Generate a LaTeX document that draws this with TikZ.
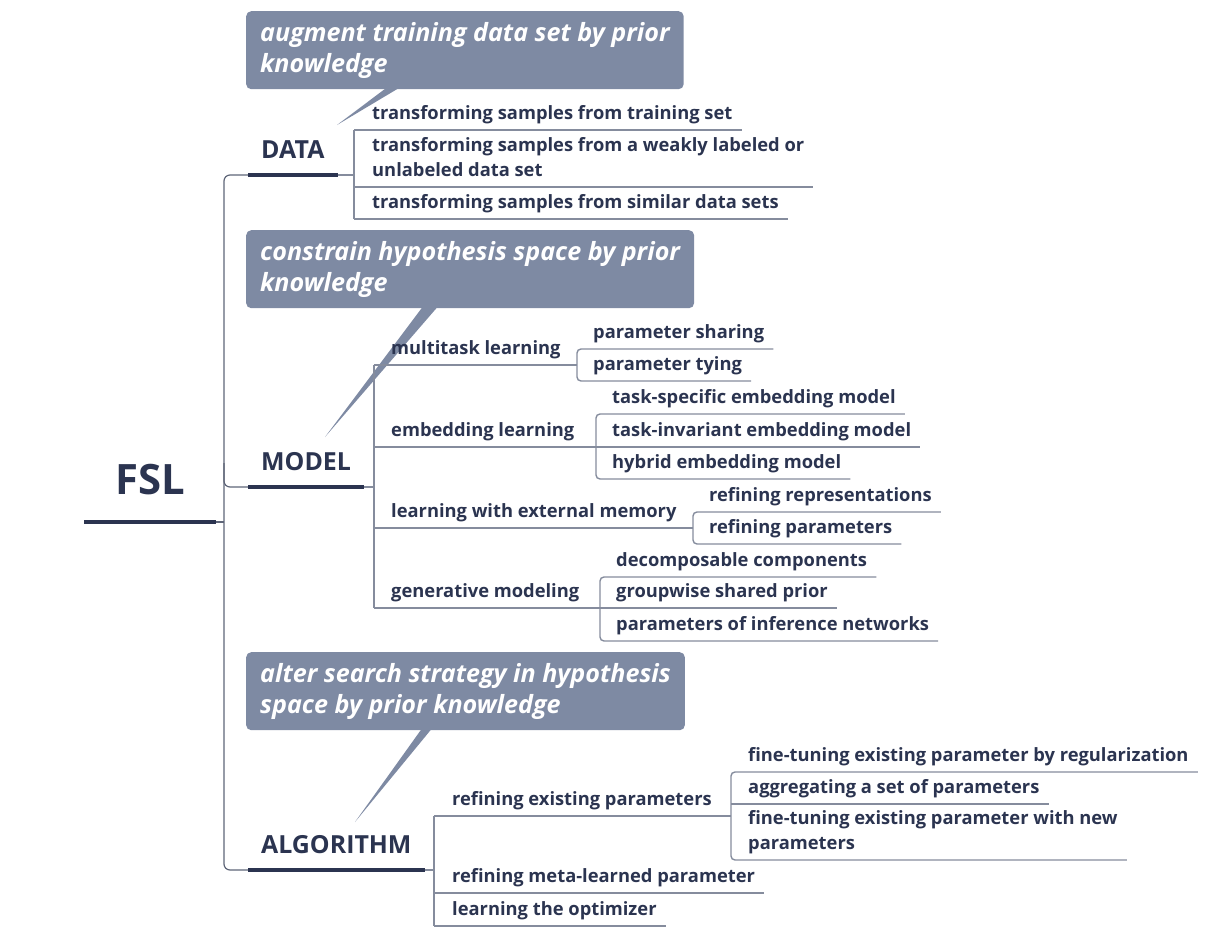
\documentclass[tikz,border=0pt]{standalone}
\usepackage{fontspec}
\setmainfont[Ligatures=NoCommon]{Open Sans}
\usetikzlibrary{positioning}
\definecolor{ink}{HTML}{2B3450}
\definecolor{notefill}{HTML}{7E8AA3}
\definecolor{twiggray}{HTML}{858C9D}
\definecolor{trunkgray}{HTML}{5E6578}
\tikzset{
  root/.style={anchor=south west, inner xsep=31bp, inner ysep=27bp, text depth=0pt, text=ink, font=\fontsize{42}{48}\selectfont\bfseries},
  topic/.style={anchor=south west, inner xsep=13bp, inner ysep=16bp, text depth=0pt, text=ink, font=\fontsize{25}{29}\selectfont\bfseries},
  leaf/.style={anchor=south west, inner xsep=0pt, inner ysep=6bp, text depth=4bp, align=left, text=ink, font=\fontsize{18.4}{25}\selectfont\bfseries},
  note/.style={anchor=north west, fill=notefill, rounded corners=5bp, inner xsep=14bp, inner ysep=11bp, align=left, text=white, font=\fontsize{25.2}{31}\selectfont\bfseries\itshape},
  tail/.style={fill=notefill},
  trunk/.style={draw=trunkgray, line width=1.2bp},
  bar/.style={draw=ink, line width=3.5bp},
  twig/.style={draw=twiggray, line width=1.4bp},
}
\begin{document}
\begin{tikzpicture}[x=1bp,y=-1bp]
\useasboundingbox (0,0) rectangle (1226,944);
%% callouts
\node[note] (n1) at (246,11) {augment training data set by prior\\knowledge};
\node[note] (n2) at (246,230) {constrain hypothesis space by prior\\knowledge};
\node[note] (n3) at (246,652) {alter search strategy in hypothesis\\space by prior knowledge};
\coordinate (n1tip) at (337,125);
\coordinate (n2tip) at (325,437);
\coordinate (n3tip) at (355,822);
\fill[tail] ([xshift=141bp,yshift=2bp]n1.south west) -- (n1tip) -- ([xshift=154bp,yshift=2bp]n1.south west) -- cycle;
\fill[tail] ([xshift=177bp,yshift=2bp]n2.south west) -- (n2tip) -- ([xshift=192bp,yshift=2bp]n2.south west) -- cycle;
\fill[tail] ([xshift=176bp,yshift=2bp]n3.south west) -- (n3tip) -- ([xshift=186bp,yshift=2bp]n3.south west) -- cycle;
%% root and main topics
\node[root] (fsl) at (84,522) {FSL};
\node[topic] (data) at (248,175) {DATA};
\node[topic] (model) at (248,487) {MODEL};
\node[topic] (algo) at (248,870) {ALGORITHM};
\coordinate (rootbar) at (224,522);
\draw[trunk] (fsl.south east) -- (rootbar);
\draw[trunk, rounded corners=6bp] (data.south west) -| (rootbar) |- (algo.south west);
\draw[trunk, rounded corners=6bp] (model.south west) -| ++(-24,-24);
\foreach \t in {fsl,data,model,algo}
  \draw[bar] (\t.south west) -- (\t.south east);
%% DATA
\node[leaf] (d1) at (372,130) {transforming samples from training set};
\node[leaf] (d2) at (372,187) {transforming samples from a weakly labeled or\\unlabeled data set};
\node[leaf] (d3) at (372,219) {transforming samples from similar data sets};
\coordinate (databar) at (354,175);
\draw[twig] (data.south east) -- (databar);
\draw[twig] (d1.south -| databar) -- (d3.south -| databar);
\foreach \n in {d1,d2,d3}
  \draw[twig] (\n.south -| databar) -- ([xshift=9bp]\n.south east);
%% MODEL
\node[leaf] (mt) at (391,365) {multitask learning};
\node[leaf] (el) at (391,447) {embedding learning};
\node[leaf] (lm) at (391,528) {learning with external memory};
\node[leaf] (gm) at (391,608) {generative modeling};
\coordinate (modelbar) at (374,487);
\draw[twig] (model.south east) -- (modelbar);
\draw[twig] (mt.south -| modelbar) -- (gm.south -| modelbar);
\coordinate (mtbar) at (577,365);
\coordinate (elbar) at (596,447);
\coordinate (lmbar) at (693,528);
\coordinate (gmbar) at (600,608);
\draw[twig] (mt.south -| modelbar) -- (mtbar);
\draw[twig] (el.south -| modelbar) -- (elbar);
\draw[twig] (lm.south -| modelbar) -- (lmbar);
\draw[twig] (gm.south -| modelbar) -- (gmbar);
\node[leaf] (mt1) at (593,349) {parameter sharing};
\node[leaf] (mt2) at (593,381) {parameter tying};
\draw[twig, rounded corners=4bp] ([xshift=9bp]mt1.south east) -- (mt1.south -| mtbar) -- (mt2.south -| mtbar) -- ([xshift=9bp]mt2.south east);
\node[leaf] (el1) at (612,414) {task-specific embedding model};
\node[leaf] (el2) at (612,447) {task-invariant embedding model};
\node[leaf] (el3) at (612,479) {hybrid embedding model};
\draw[twig, rounded corners=4bp] ([xshift=9bp]el1.south east) -- (el1.south -| elbar) -- (el3.south -| elbar) -- ([xshift=9bp]el3.south east);
\draw[twig] (el2.south -| elbar) -- ([xshift=9bp]el2.south east);
\node[leaf] (lm1) at (709,512) {refining representations};
\node[leaf] (lm2) at (709,544) {refining parameters};
\draw[twig, rounded corners=4bp] ([xshift=9bp]lm1.south east) -- (lm1.south -| lmbar) -- (lm2.south -| lmbar) -- ([xshift=9bp]lm2.south east);
\node[leaf] (gm1) at (616,577) {decomposable components};
\node[leaf] (gm2) at (616,608) {groupwise shared prior};
\node[leaf] (gm3) at (616,641) {parameters of inference networks};
\draw[twig, rounded corners=4bp] ([xshift=9bp]gm1.south east) -- (gm1.south -| gmbar) -- (gm3.south -| gmbar) -- ([xshift=9bp]gm3.south east);
\draw[twig] (gm2.south -| gmbar) -- ([xshift=9bp]gm2.south east);
%% ALGORITHM
\node[leaf] (re) at (452,816) {refining existing parameters};
\node[leaf] (rm) at (452,893) {refining meta-learned parameter};
\node[leaf] (lo) at (452,926) {learning the optimizer};
\coordinate (algobar) at (434,870);
\coordinate (rebar) at (731,816);
\draw[twig] (algo.south east) -- (algobar);
\draw[twig] (re.south -| algobar) -- (lo.south -| algobar);
\draw[twig] (re.south -| algobar) -- (rebar);
\foreach \n in {rm,lo}
  \draw[twig] (\n.south -| algobar) -- ([xshift=9bp]\n.south east);
\node[leaf] (re1) at (748,772) {fine-tuning existing parameter by regularization};
\node[leaf] (re2) at (748,804) {aggregating a set of parameters};
\node[leaf] (re3) at (748,860) {fine-tuning existing parameter with new\\parameters};
\draw[twig, rounded corners=4bp] ([xshift=9bp]re1.south east) -- (re1.south -| rebar) -- (re3.south -| rebar) -- ([xshift=9bp]re3.south east);
\draw[twig] (re2.south -| rebar) -- ([xshift=9bp]re2.south east);
\end{tikzpicture}
\end{document}
